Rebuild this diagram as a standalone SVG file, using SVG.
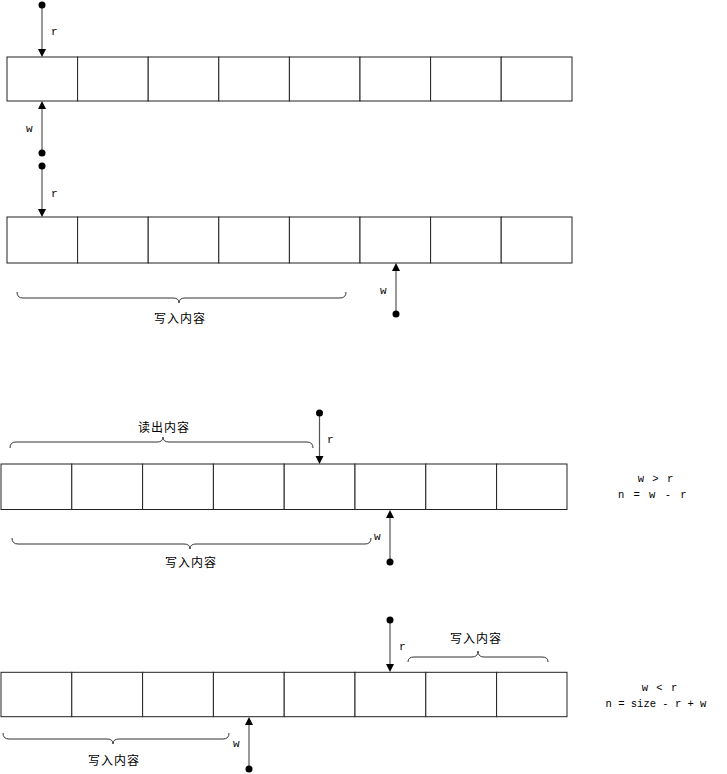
<svg xmlns="http://www.w3.org/2000/svg" width="727" height="774" viewBox="0 0 727 774">
<style>
.cell{fill:#fff;stroke:#222;stroke-width:1}
.arr{stroke:#555;stroke-width:1.2;fill:none}
.dot{fill:#000}
.head{fill:#000}
.brace{fill:none;stroke:#333;stroke-width:1}
.lbl{font-family:"Liberation Mono",monospace;font-size:11px;fill:#000}
.cn{font-family:"Noto Sans CJK SC",sans-serif;font-size:12px;fill:#000;letter-spacing:1px}
.eq{font-family:"Liberation Mono",monospace;font-size:10.5px;fill:#000}
</style>
<rect width="727" height="774" fill="#fff"/>
<g id="row1">
<rect class="cell" x="7" y="57" width="70.6" height="44"/>
<rect class="cell" x="77.6" y="57" width="70.6" height="44"/>
<rect class="cell" x="148.2" y="57" width="70.6" height="44"/>
<rect class="cell" x="218.8" y="57" width="70.6" height="44"/>
<rect class="cell" x="289.4" y="57" width="70.6" height="44"/>
<rect class="cell" x="360" y="57" width="70.6" height="44"/>
<rect class="cell" x="430.6" y="57" width="70.6" height="44"/>
<rect class="cell" x="501.2" y="57" width="70.8" height="44"/>
</g>
<g id="row2">
<rect class="cell" x="7" y="217" width="70.6" height="46"/>
<rect class="cell" x="77.6" y="217" width="70.6" height="46"/>
<rect class="cell" x="148.2" y="217" width="70.6" height="46"/>
<rect class="cell" x="218.8" y="217" width="70.6" height="46"/>
<rect class="cell" x="289.4" y="217" width="70.6" height="46"/>
<rect class="cell" x="360" y="217" width="70.6" height="46"/>
<rect class="cell" x="430.6" y="217" width="70.6" height="46"/>
<rect class="cell" x="501.2" y="217" width="70.8" height="46"/>
</g>
<g id="row3">
<rect class="cell" x="1" y="464" width="70.8" height="45.5"/>
<rect class="cell" x="71.8" y="464" width="70.8" height="45.5"/>
<rect class="cell" x="142.6" y="464" width="70.8" height="45.5"/>
<rect class="cell" x="213.4" y="464" width="70.8" height="45.5"/>
<rect class="cell" x="284.2" y="464" width="70.8" height="45.5"/>
<rect class="cell" x="355" y="464" width="70.8" height="45.5"/>
<rect class="cell" x="425.8" y="464" width="70.8" height="45.5"/>
<rect class="cell" x="496.6" y="464" width="70.4" height="45.5"/>
</g>
<g id="row4">
<rect class="cell" x="1" y="672.3" width="70.8" height="44.4"/>
<rect class="cell" x="71.8" y="672.3" width="70.8" height="44.4"/>
<rect class="cell" x="142.6" y="672.3" width="70.8" height="44.4"/>
<rect class="cell" x="213.4" y="672.3" width="70.8" height="44.4"/>
<rect class="cell" x="284.2" y="672.3" width="70.8" height="44.4"/>
<rect class="cell" x="355" y="672.3" width="70.8" height="44.4"/>
<rect class="cell" x="425.8" y="672.3" width="70.8" height="44.4"/>
<rect class="cell" x="496.6" y="672.3" width="70.4" height="44.4"/>
</g>
<g id="connectors">
<line class="arr" x1="42" y1="5" x2="42" y2="50"/>
<circle class="dot" cx="42" cy="5" r="3.5"/>
<polygon class="head" points="38,49 46,49 42,57"/>
<line class="arr" x1="42" y1="108" x2="42" y2="153"/>
<circle class="dot" cx="42" cy="153" r="3.5"/>
<polygon class="head" points="38,109 46,109 42,101"/>
<line class="arr" x1="42" y1="166" x2="42" y2="210"/>
<circle class="dot" cx="42" cy="166" r="3.5"/>
<polygon class="head" points="38,209 46,209 42,217"/>
<line class="arr" x1="396" y1="270" x2="396" y2="314"/>
<circle class="dot" cx="396" cy="314" r="3.5"/>
<polygon class="head" points="392,271 400,271 396,263"/>
<line class="arr" x1="319.5" y1="413" x2="319.5" y2="457"/>
<circle class="dot" cx="319.5" cy="413" r="3.5"/>
<polygon class="head" points="315.5,456 323.5,456 319.5,464"/>
<line class="arr" x1="390" y1="517" x2="390" y2="562"/>
<circle class="dot" cx="390" cy="562" r="3.5"/>
<polygon class="head" points="386,518 394,518 390,510"/>
<line class="arr" x1="390" y1="620" x2="390" y2="665"/>
<circle class="dot" cx="390" cy="620" r="3.5"/>
<polygon class="head" points="386,664 394,664 390,672"/>
<line class="arr" x1="249" y1="724" x2="249" y2="769"/>
<circle class="dot" cx="249" cy="769" r="3.5"/>
<polygon class="head" points="245,725 253,725 249,717"/>
</g>
<g id="braces">
<path class="brace" d="M17,292 Q17,298 23,298 H173 Q179,298 179,303 Q179,298 185,298 H340 Q346,298 346,292"/>
<path class="brace" d="M10,448 Q10,442 16,442 H157 Q163,442 163,437 Q163,442 169,442 H307 Q313,442 313,448"/>
<path class="brace" d="M12,538 Q12,544 18,544 H184 Q190,544 190,549 Q190,544 196,544 H365 Q371,544 371,538"/>
<path class="brace" d="M3,733 Q3,739 9,739 H107 Q113,739 113,744 Q113,739 119,739 H223 Q229,739 229,733"/>
<path class="brace" d="M408,662 Q408,657 414,657 H472 Q478,657 478,651 Q478,657 484,657 H542 Q548,657 548,662"/>
</g>
<g id="labels">
<text class="lbl" x="51" y="35">r</text>
<text class="lbl" x="26" y="132">w</text>
<text class="lbl" x="51" y="197">r</text>
<text class="lbl" x="380" y="294">w</text>
<text class="lbl" x="327" y="443">r</text>
<text class="lbl" x="374" y="540">w</text>
<text class="lbl" x="399" y="650">r</text>
<text class="lbl" x="233" y="747">w</text>
<text class="cn" x="180" y="323" text-anchor="middle">写入内容</text>
<text class="cn" x="164" y="432" text-anchor="middle">读出内容</text>
<text class="cn" x="191" y="567" text-anchor="middle">写入内容</text>
<text class="cn" x="476" y="643" text-anchor="middle">写入内容</text>
<text class="cn" x="114" y="765" text-anchor="middle">写入内容</text>
<text class="eq" x="656" y="482" text-anchor="middle" letter-spacing="1" xml:space="preserve">w &gt; r</text>
<text class="eq" x="653" y="498" text-anchor="middle" letter-spacing="1.5" xml:space="preserve">n = w - r</text>
<text class="eq" x="660" y="691" text-anchor="middle" letter-spacing="1" xml:space="preserve">w &lt; r</text>
<text class="eq" x="656" y="707" text-anchor="middle" xml:space="preserve">n = size - r + w</text>
</g>
</svg>
